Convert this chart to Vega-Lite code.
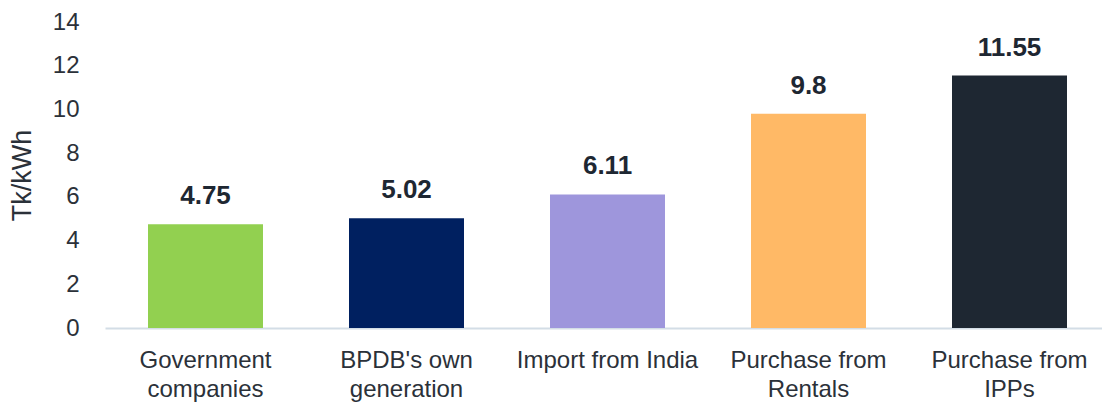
{
  "$schema": "https://vega.github.io/schema/vega-lite/v6.json",
  "autosize": "none",
  "width": 997,
  "height": 306,
  "padding": {"left": 105, "top": 22, "right": 0, "bottom": 74},
  "background": "white",
  "config": {"view": {"stroke": null}, "font": "Liberation Sans"},
  "data": {"values": [
    {"source": "Government|companies", "cost": 4.75, "color": "#92d050"},
    {"source": "BPDB's own|generation", "cost": 5.02, "color": "#002060"},
    {"source": "Import from India", "cost": 6.11, "color": "#9e96dc"},
    {"source": "Purchase from|Rentals", "cost": 9.8, "color": "#ffb966"},
    {"source": "Purchase from|IPPs", "cost": 11.55, "color": "#1e2732"}
  ]},
  "encoding": {
    "x": {"field": "source", "type": "nominal", "sort": null,
      "scale": {"range": [0, 1005], "paddingInner": 0.428, "paddingOuter": 0.214},
      "axis": {"title": null, "labelAngle": 0, "labelExpr": "split(datum.value, '|')",
        "labelFontSize": 24, "labelColor": "#2b3139", "labelLineHeight": 29, "labelLimit": 0,
        "labelPadding": 20, "ticks": false, "domainColor": "#d3dde6", "domainWidth": 2, "labelFont": "Liberation Sans"}},
    "y": {"field": "cost", "type": "quantitative",
      "scale": {"domain": [0, 14]},
      "axis": {"title": "Tk/kWh", "values": [0, 2, 4, 6, 8, 10, 12, 14], "grid": false, "domain": false, "ticks": false,
        "labelFontSize": 24, "labelColor": "#2b3139", "labelPadding": 26, "labelFont": "Liberation Sans",
        "titleFontSize": 27, "titleFontWeight": "normal", "titleColor": "#2b3139", "titlePadding": 16, "titleFont": "Liberation Sans"}}
  },
  "layer": [
    {"mark": {"type": "bar", "width": 115}, "encoding": {"color": {"field": "color", "type": "nominal", "scale": null}}},
    {"mark": {"type": "text", "baseline": "alphabetic", "dy": -20, "fontSize": 26, "fontWeight": "bold", "color": "#1e2732", "font": "Liberation Sans"},
      "encoding": {"text": {"field": "cost", "type": "quantitative"}}}
  ]
}
